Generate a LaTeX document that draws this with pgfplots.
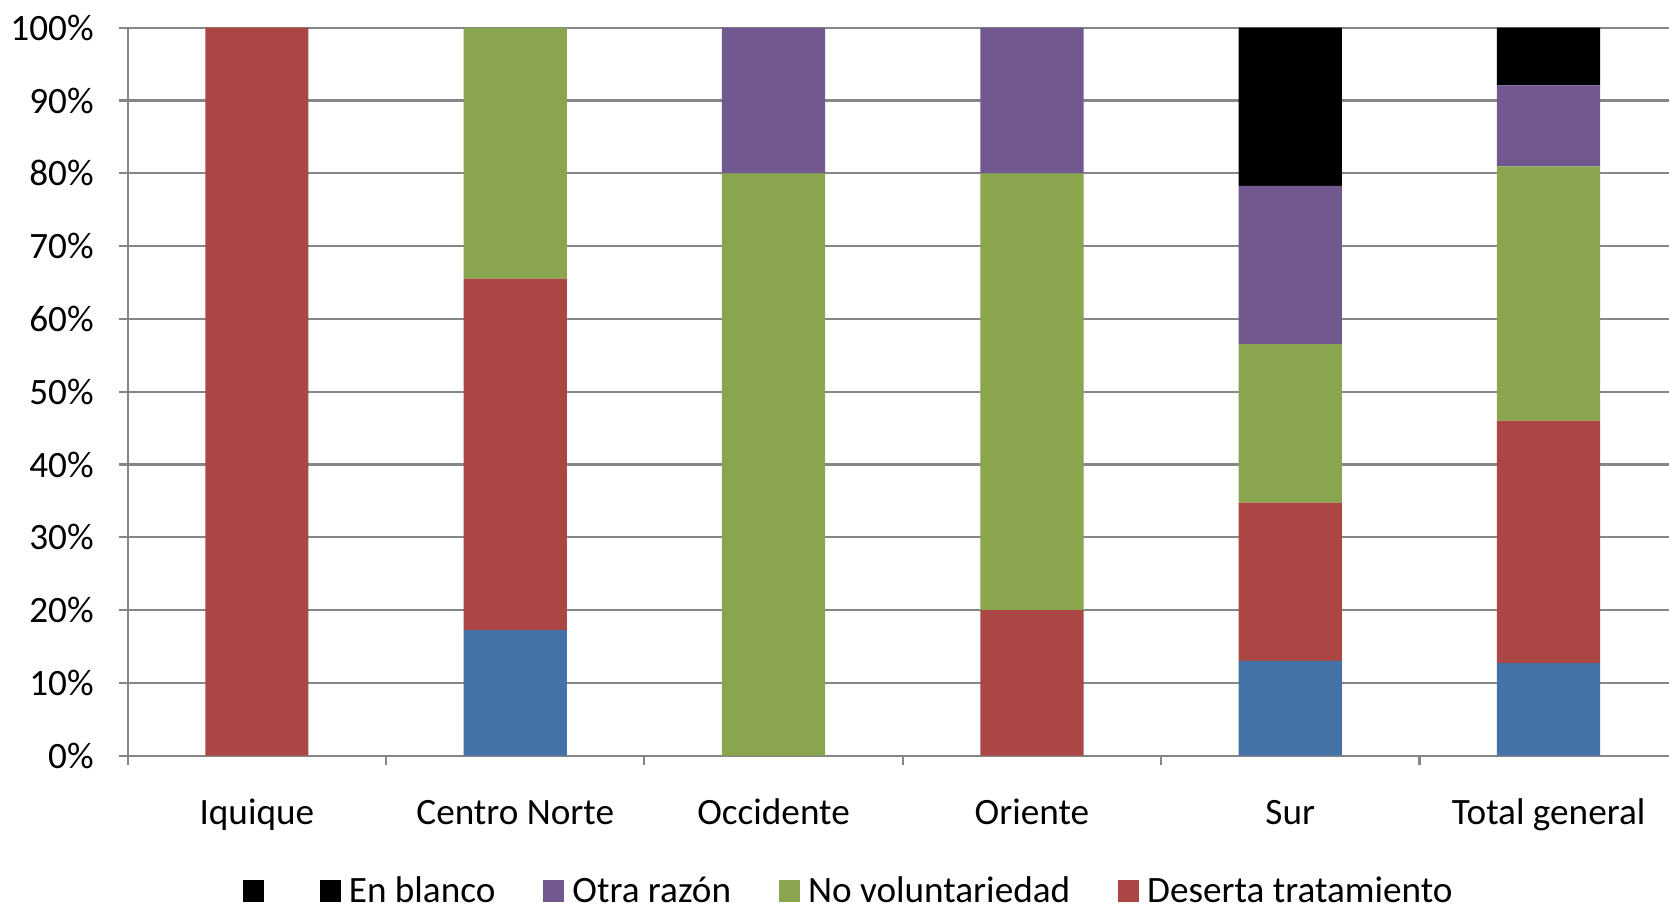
\documentclass[border=0pt]{standalone}
\usepackage{pgfplots}
\pgfplotsset{compat=1.18}
\usepackage{fontspec}
\setmainfont{Carlito}
\definecolor{cblue}{HTML}{4572A7}
\definecolor{cred}{HTML}{AA4643}
\definecolor{cgreen}{HTML}{89A54E}
\definecolor{cpurple}{HTML}{71588F}
\definecolor{cgrid}{HTML}{868686}
\begin{document}
\begin{tikzpicture}
\begin{axis}[
  at={(0,0)}, anchor=south west,
  scale only axis, width=770.5pt, height=364pt,
  ybar stacked, bar width=51.6pt,
  xmin=-0.5, xmax=5.465, ymin=0, ymax=100,
  axis x line*=bottom, axis y line*=left,
  axis line style={draw=cgrid, line width=1.1pt, -},
  tick align=outside,
  major tick length=4.5pt,
  tick style={draw=cgrid, line width=1.1pt},
  ymajorgrids, grid style={draw=cgrid, line width=1.1pt},
  ytick={0,10,...,100},
  yticklabels={0\%,10\%,20\%,30\%,40\%,50\%,60\%,70\%,80\%,90\%,100\%},
  xtick={-0.5,0.5,1.5,2.5,3.5,4.5},
  xticklabels={},
  extra x ticks={0,1,2,3,4,5},
  extra x tick labels={Iquique,Centro Norte,Occidente,Oriente,Sur,Total general},
  extra x tick style={major tick length=0pt, xticklabel style={yshift=-18pt, text height=13pt, text depth=4pt}},
  tick label style={font=\fontsize{18.6}{22}\selectfont},
  yticklabel style={xshift=-9pt},
  /pgf/number format/assume math mode=true,
  legend style={draw=none, font=\fontsize{18.6}{22}\selectfont,
    at={(rel axis cs:0.4685,-0.1860)}, anchor=center,
    inner sep=0pt,
    legend columns=-1,
    column sep=2pt,
    /tikz/every even column/.append style={column sep=22pt}},
  legend image code/.code={\fill[#1] (0pt,-5.5pt) rectangle (10.5pt,5.5pt);},
]
\addplot[forget plot, fill=cblue, draw=none] coordinates {(0,0) (1,17.24) (2,0) (3,0) (4,13.04) (5,12.70)};
\addplot[forget plot, fill=cred, draw=none] coordinates {(0,100) (1,48.28) (2,0) (3,20) (4,21.74) (5,33.33)};
\addplot[forget plot, fill=cgreen, draw=none] coordinates {(0,0) (1,34.48) (2,80) (3,60) (4,21.74) (5,34.92)};
\addplot[forget plot, fill=cpurple, draw=none] coordinates {(0,0) (1,0) (2,20) (3,20) (4,21.74) (5,11.11)};
\addplot[forget plot, fill=black, draw=none] coordinates {(0,0) (1,0) (2,0) (3,0) (4,21.74) (5,7.94)};
\addlegendimage{fill=black, draw=none}\addlegendentry{\mbox{}}
\addlegendimage{fill=black, draw=none}\addlegendentry{En blanco}
\addlegendimage{fill=cpurple, draw=none}\addlegendentry{Otra razón}
\addlegendimage{fill=cgreen, draw=none}\addlegendentry{No voluntariedad}
\addlegendimage{fill=cred, draw=none}\addlegendentry{Deserta tratamiento}
\end{axis}
\pgfresetboundingbox
\useasboundingbox (-63.85pt,-77pt) rectangle (770.65pt,377.85pt);
\end{tikzpicture}
\end{document}
